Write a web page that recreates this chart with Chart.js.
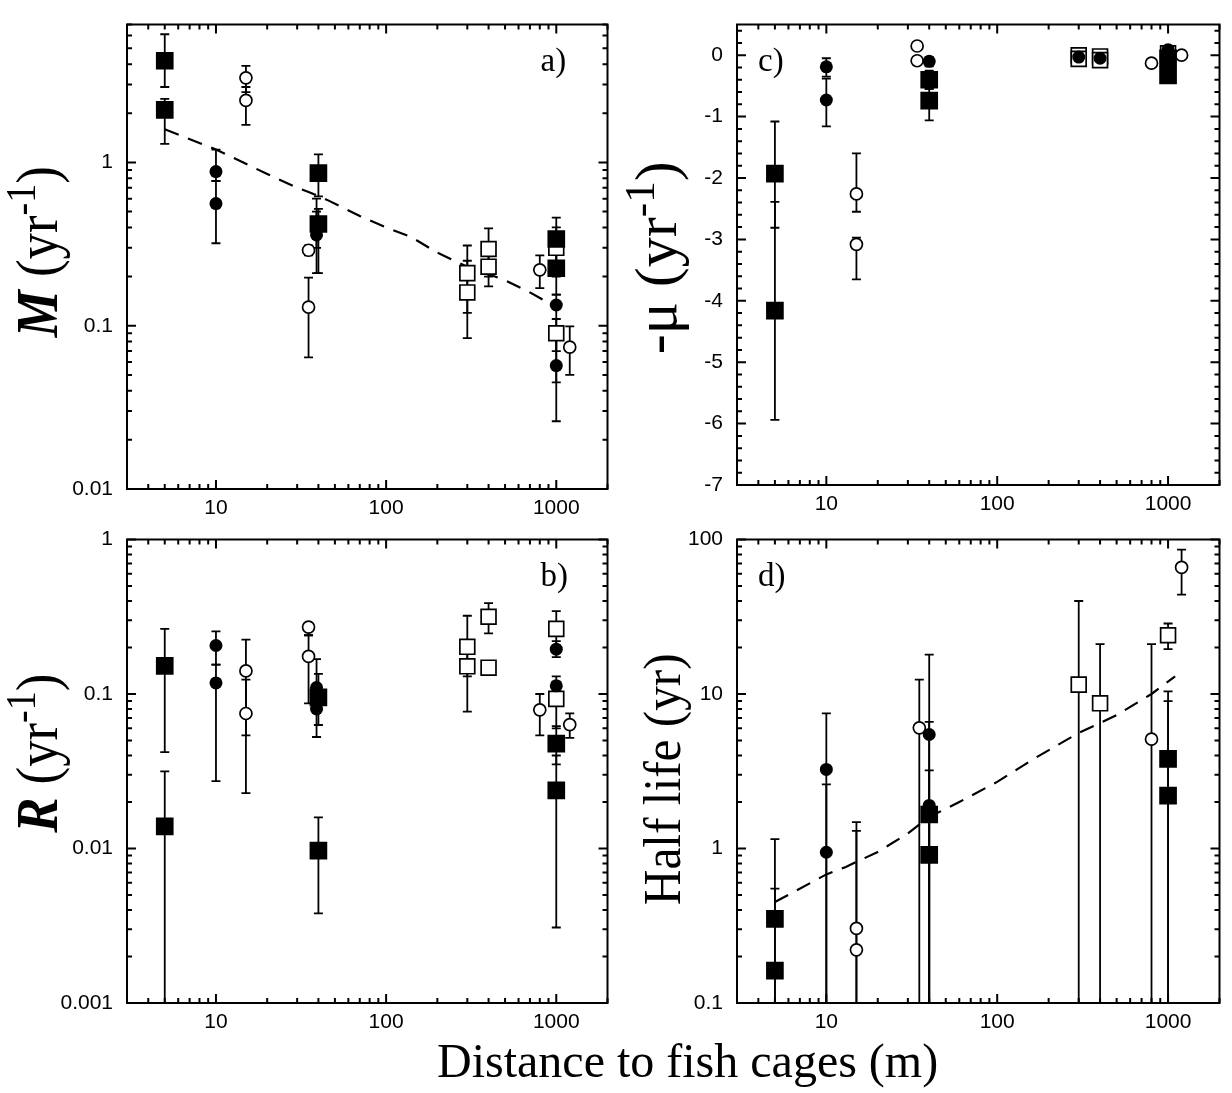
<!DOCTYPE html>
<html>
<head>
<meta charset="utf-8">
<script src="https://cdn.jsdelivr.net/npm/chart.js@4.4.1/dist/chart.umd.min.js"></script>
<style>
  body { margin: 0; background: #fff; }
  #page { position: relative; width: 1232px; height: 1093px; overflow: hidden; background: #fff; }
  canvas { position: absolute; }
  #xtitle { position: absolute; left: 437px; top: 1037px; font: 48px/48px "Liberation Serif", "Times New Roman", serif; white-space: nowrap; color: #000; }
</style>
</head>
<body>
<div id="page">
  <canvas id="ca" width="620" height="530" style="left:0;top:0"></canvas>
  <canvas id="cc" width="612" height="530" style="left:620px;top:0"></canvas>
  <canvas id="cb" width="620" height="578" style="left:0;top:515px"></canvas>
  <canvas id="cd" width="612" height="578" style="left:620px;top:515px"></canvas>
  <div id="xtitle">Distance to fish cages (m)</div>
</div>
<script>
// x axis (distance, m) is shared by all four panels
var xMin = 3, xMax = 2000;
var xTickLabels = [10, 100, 1000];

// each point: [distance, value, lower error, upper error]  (null = no bar)

// a) M (yr-1)
var aFilledSquares = [[5, 4.2, 2.9, 6.1], [5, 2.1, 1.3, 2.45], [40, 0.86, 0.62, 1.12], [40, 0.42, 0.21, 0.52], [1000, 0.34, 0.22, 0.46], [1000, 0.225, 0.155, 0.29]];
var aFilledCircles = [[10, 0.88, 0.77, 1.2], [10, 0.56, 0.32, 0.77], [39, 0.40, 0.30, 0.60], [39, 0.36, 0.21, 0.50], [1000, 0.134, 0.045, 0.155], [1000, 0.057, 0.026, 0.09]];
var aOpenCircles = [[15, 3.3, 2.7, 3.9], [15, 2.4, 1.7, 2.9], [35, 0.29, 0.27, 0.31], [35, 0.13, 0.064, 0.197], [800, 0.22, 0.17, 0.27], [1200, 0.074, 0.05, 0.099]];
var aOpenSquares = [[300, 0.21, 0.12, 0.31], [300, 0.16, 0.084, 0.25], [400, 0.295, 0.2, 0.395], [400, 0.23, 0.174, 0.3], [1000, 0.30, 0.2, 0.4], [1000, 0.09, 0.07, 0.11]];
var aFit = [[5, 1.6], [10, 1.2], [20, 0.85], [30, 0.70], [35, 0.66], [45, 0.59], [70, 0.47], [100, 0.40], [140, 0.35], [200, 0.28], [300, 0.23], [500, 0.19], [700, 0.16], [1000, 0.13]];
var aYTicks = [0.01, 0.1, 1];

// b) R (yr-1)
var bFilledSquares = [[5, 0.152, 0.042, 0.264], [5, 0.0139, 0.0005, 0.0316], [40, 0.095, 0.063, 0.135], [40, 0.0097, 0.0038, 0.0159], [1000, 0.0477, 0.035, 0.062], [1000, 0.0238, 0.00308, 0.04]];
var bFilledCircles = [[10, 0.206, 0.155, 0.254], [10, 0.118, 0.0273, 0.155], [39, 0.11, 0.09, 0.168], [39, 0.08, 0.0527, 0.1], [1000, 0.195, 0.173, 0.22], [1000, 0.113, 0.1, 0.13]];
var bOpenCircles = [[15, 0.141, 0.054, 0.225], [15, 0.0748, 0.0228, 0.124], [35, 0.271, 0.24, 0.285], [35, 0.175, 0.087, 0.24], [800, 0.079, 0.054, 0.1], [1200, 0.0634, 0.052, 0.075]];
var bOpenSquares = [[300, 0.202, 0.13, 0.321], [300, 0.151, 0.0769, 0.2], [400, 0.316, 0.247, 0.387], [400, 0.148, 0.14, 0.157], [1000, 0.264, 0.2, 0.344], [1000, 0.093, 0.06, 0.12]];
var bYTicks = [0.001, 0.01, 0.1, 1];

// c) -mu (yr-1)
var cFilledSquares = [[5, -1.93, -2.81, -1.08], [5, -4.16, -5.94, -2.39], [40, -0.40, -0.55, -0.25], [40, -0.74, -1.06, -0.55], [1000, -0.05, -0.15, 0.05], [1000, -0.33, -0.43, -0.2]];
var cFilledCircles = [[10, -0.19, -0.35, -0.05], [10, -0.73, -1.16, -0.38], [40, -0.10, -0.18, -0.03], [300, -0.03, -0.08, 0.02], [400, -0.05, -0.1, 0.0], [1000, 0.09, 0.05, 0.13]];
var cOpenCircles = [[34, 0.15, null, null], [34, -0.09, null, null], [15, -2.26, -2.55, -1.6], [15, -3.08, -3.65, -2.97], [800, -0.13, -0.18, -0.08], [1200, 0.0, -0.03, 0.03]];
var cOpenSquares = [[300, 0.0, null, null], [300, -0.06, null, null], [400, -0.02, null, null], [400, -0.08, null, null], [1000, 0.03, null, null]];
var cYTicks = [-7, -6, -5, -4, -3, -2, -1, 0];

// d) Half life (yr)
var dFilledSquares = [[5, 0.35, 0.05, 1.15], [5, 0.162, 0.05, 0.55], [40, 1.66, 0.05, 3.2], [40, 0.91, 0.05, 1.9], [1000, 3.8, 0.05, 10.4], [1000, 2.2, 0.05, 9.0]];
var dFilledCircles = [[10, 3.25, 0.05, 7.5], [10, 0.946, 0.05, 2.6], [40, 5.47, 0.05, 18], [40, 1.9, 0.05, 6.6]];
var dOpenCircles = [[35, 6.04, 0.05, 12.4], [15, 0.304, 0.05, 1.48], [15, 0.221, 0.05, 1.3], [800, 5.1, 0.05, 21], [1200, 66, 44, 86]];
var dOpenSquares = [[300, 11.5, 0.05, 40], [400, 8.7, 0.05, 21], [1000, 24, 19.5, 28.6]];
var dFit = [[5, 0.45], [10, 0.68], [13, 0.76], [20, 0.95], [30, 1.25], [40, 1.6], [60, 2.0], [100, 2.7], [170, 3.9], [300, 5.6], [500, 7.3], [800, 10], [1100, 13]];
var dYTicks = [0.1, 1, 10, 100];

// tick positions (major + minor) for the inward tick marks
function logTicks(min, max) {
    var out = [];
    for (var e = Math.floor(Math.log10(min)); e <= Math.ceil(Math.log10(max)); e++) {
        for (var m = 1; m < 10; m++) {
            var v = m * Math.pow(10, e);
            if (v >= min * 0.999 && v <= max * 1.001) out.push({ v: v, major: m === 1 });
        }
    }
    return out;
}
function linTicks(min, max, step, majorStep) {
    var out = [];
    for (var v = min; v <= max + 1e-9; v += step) {
        var r = Math.round(v * 10) / 10;
        out.push({ v: r, major: Math.abs(r / majorStep - Math.round(r / majorStep)) < 1e-6 });
    }
    return out;
}

var SERIF = '"Liberation Serif", "Times New Roman", serif';
var SANS = '"Liberation Sans", Arial, Helvetica, sans-serif';

// frame, inward ticks, error bars, panel letter and rotated y title
var panelPlugin = {
    id: 'panel',
    beforeDatasetsDraw: function (chart) {
        var ctx = chart.ctx, a = chart.chartArea, xs = chart.scales.x, ys = chart.scales.y;
        ctx.save();
        ctx.beginPath();
        ctx.rect(a.left, a.top, a.right - a.left, a.bottom - a.top);
        ctx.clip();
        ctx.strokeStyle = '#000';
        ctx.lineWidth = 1.8;
        chart.data.datasets.forEach(function (ds) {
            if (ds.type === 'line') return;
            ds.data.forEach(function (p) {
                if (p.lo == null) return;
                var px = xs.getPixelForValue(p.x);
                var lo = ys.getPixelForValue(p.lo), hi = ys.getPixelForValue(p.hi);
                ctx.beginPath();
                ctx.moveTo(px, lo); ctx.lineTo(px, hi);
                ctx.moveTo(px - 4.5, lo); ctx.lineTo(px + 4.5, lo);
                ctx.moveTo(px - 4.5, hi); ctx.lineTo(px + 4.5, hi);
                ctx.stroke();
            });
        });
        ctx.restore();
    },
    afterDraw: function (chart) {
        var o = chart.options.plugins.panel;
        var ctx = chart.ctx, a = chart.chartArea, xs = chart.scales.x, ys = chart.scales.y;
        ctx.save();
        ctx.strokeStyle = '#000';
        ctx.lineWidth = 2;
        ctx.strokeRect(a.left, a.top, a.right - a.left, a.bottom - a.top);
        ctx.beginPath();
        logTicks(xMin, xMax).forEach(function (t) {
            var px = xs.getPixelForValue(t.v), len = t.major ? 9 : 5;
            ctx.moveTo(px, a.bottom); ctx.lineTo(px, a.bottom - len);
            ctx.moveTo(px, a.top); ctx.lineTo(px, a.top + len);
        });
        o.yTicks.forEach(function (t) {
            var py = ys.getPixelForValue(t.v), len = t.major ? 9 : 5;
            ctx.moveTo(a.left, py); ctx.lineTo(a.left + len, py);
            ctx.moveTo(a.right, py); ctx.lineTo(a.right - len, py);
        });
        ctx.stroke();

        // panel letter
        ctx.fillStyle = '#000';
        ctx.font = '33px ' + SERIF;
        ctx.textBaseline = 'alphabetic';
        ctx.textAlign = 'left';
        var lx = o.letterRight ? a.right - 67 : a.left + 21;
        ctx.fillText(o.letter, lx, a.top + 46);

        // rotated y title built from runs
        ctx.translate(o.titleX, (a.top + a.bottom) / 2 + o.titleShift);
        ctx.rotate(-Math.PI / 2);
        ctx.scale(o.titleStretch, 1);
        var size = o.titleSize;
        function font(r) {
            var s = r.sup ? size * 0.72 : size;
            return (r.style || '') + ' ' + s + 'px ' + SERIF;
        }
        var total = 0;
        o.title.forEach(function (r) { ctx.font = font(r); total += ctx.measureText(r.t).width; });
        var x = -total / 2;
        o.title.forEach(function (r) {
            ctx.font = font(r);
            ctx.fillText(r.t, x, r.sup ? -size * 0.36 : 0);
            x += ctx.measureText(r.t).width;
        });
        ctx.restore();
    }
};

function series(points, style, radius, fill, order) {
    return {
        data: points.map(function (p) { return { x: p[0], y: p[1], lo: p[2], hi: p[3] }; }),
        pointStyle: style,
        pointRadius: radius,
        pointHoverRadius: radius,
        backgroundColor: fill,
        borderColor: '#000',
        borderWidth: fill === '#000' ? 0 : 1.7,
        order: order
    };
}
function fitLine(points) {
    return {
        type: 'line',
        data: points.map(function (p) { return { x: p[0], y: p[1] }; }),
        borderColor: '#000',
        borderWidth: 2.2,
        borderDash: [15, 10],
        pointRadius: 0,
        fill: false,
        tension: 0,
        order: 10
    };
}

function makePanel(id, p) {
    var datasets = [
        series(p.openSquares, 'rect', 10.5, '#fff', 3),
        series(p.openCircles, 'circle', 6, '#fff', 2),
        series(p.filledSquares, 'rect', 12.5, '#000', 1),
        series(p.filledCircles, 'circle', 6.5, '#000', 0)
    ];
    if (p.fit) datasets.push(fitLine(p.fit));
    var yIsLog = p.yType === 'logarithmic';
    return new Chart(document.getElementById(id), {
        type: 'scatter',
        data: { datasets: datasets },
        options: {
            responsive: false,
            animation: false,
            devicePixelRatio: 1,
            events: [],
            layout: { padding: p.padding },
            plugins: {
                legend: { display: false },
                tooltip: { enabled: false },
                panel: {
                    letter: p.letter,
                    letterRight: p.letterRight,
                    title: p.title,
                    titleX: p.titleX,
                    titleShift: p.titleShift,
                    titleSize: p.titleSize,
                    titleStretch: p.titleStretch,
                    yTicks: yIsLog ? logTicks(p.yMin, p.yMax) : linTicks(p.yMin, p.yMax, 0.2, 1)
                }
            },
            scales: {
                x: {
                    type: 'logarithmic',
                    min: xMin,
                    max: xMax,
                    grid: { display: false, drawTicks: false },
                    border: { display: false },
                    afterBuildTicks: function (s) { s.ticks = xTickLabels.map(function (v) { return { value: v }; }); },
                    afterFit: function (s) { s.height = p.xHeight; },
                    ticks: {
                        padding: 9, autoSkip: false, maxRotation: 0, color: '#000',
                        font: { family: SANS, size: 21, lineHeight: 1 },
                        callback: function (v) { return String(v); }
                    }
                },
                y: {
                    type: p.yType,
                    min: p.yMin,
                    max: p.yMax,
                    grid: { display: false, drawTicks: false },
                    border: { display: false },
                    afterBuildTicks: function (s) { s.ticks = p.yTickLabels.map(function (v) { return { value: v }; }); },
                    afterFit: function (s) { s.width = p.yWidth; },
                    ticks: {
                        padding: 14, autoSkip: false, color: '#000',
                        font: { family: SANS, size: 21, lineHeight: 1 },
                        callback: function (v) { return String(v); }
                    }
                }
            }
        },
        plugins: [panelPlugin]
    });
}

makePanel('ca', {
    filledSquares: aFilledSquares, filledCircles: aFilledCircles, openCircles: aOpenCircles, openSquares: aOpenSquares, fit: aFit,
    yType: 'logarithmic', yMin: 0.01, yMax: 7, yTickLabels: aYTicks,
    padding: { left: 0, top: 12, right: 5, bottom: 0 }, yWidth: 127, xHeight: 41,
    letter: 'a)', letterRight: true, titleX: 57, titleShift: -5, titleSize: 60, titleStretch: 0.88,
    title: [{ t: 'M', style: 'italic bold' }, { t: ' (yr' }, { t: '-1', sup: true }, { t: ')' }]
});
makePanel('cb', {
    filledSquares: bFilledSquares, filledCircles: bFilledCircles, openCircles: bOpenCircles, openSquares: bOpenSquares,
    yType: 'logarithmic', yMin: 0.001, yMax: 1, yTickLabels: bYTicks,
    padding: { left: 0, top: 12, right: 5, bottom: 0 }, yWidth: 127, xHeight: 90,
    letter: 'b)', letterRight: true, titleX: 57, titleShift: -18, titleSize: 60, titleStretch: 0.88,
    title: [{ t: 'R', style: 'italic bold' }, { t: ' (yr' }, { t: '-1', sup: true }, { t: ')' }]
});
makePanel('cc', {
    filledSquares: cFilledSquares, filledCircles: cFilledCircles, openCircles: cOpenCircles, openSquares: cOpenSquares,
    yType: 'linear', yMin: -7, yMax: 0.5, yTickLabels: cYTicks,
    padding: { left: 0, top: 12, right: 8, bottom: 0 }, yWidth: 117, xHeight: 45,
    letter: 'c)', letterRight: false, titleX: 56, titleShift: 3, titleSize: 60, titleStretch: 1.0,
    title: [{ t: '-\u03bc' }, { t: ' (yr' }, { t: '-1', sup: true }, { t: ')' }]
});
makePanel('cd', {
    filledSquares: dFilledSquares, filledCircles: dFilledCircles, openCircles: dOpenCircles, openSquares: dOpenSquares, fit: dFit,
    yType: 'logarithmic', yMin: 0.1, yMax: 100, yTickLabels: dYTicks,
    padding: { left: 0, top: 12, right: 8, bottom: 0 }, yWidth: 117, xHeight: 90,
    letter: 'd)', letterRight: false, titleX: 60, titleShift: 8, titleSize: 53, titleStretch: 0.93,
    title: [{ t: 'Half life (yr)' }]
});
</script>
</body>
</html>
